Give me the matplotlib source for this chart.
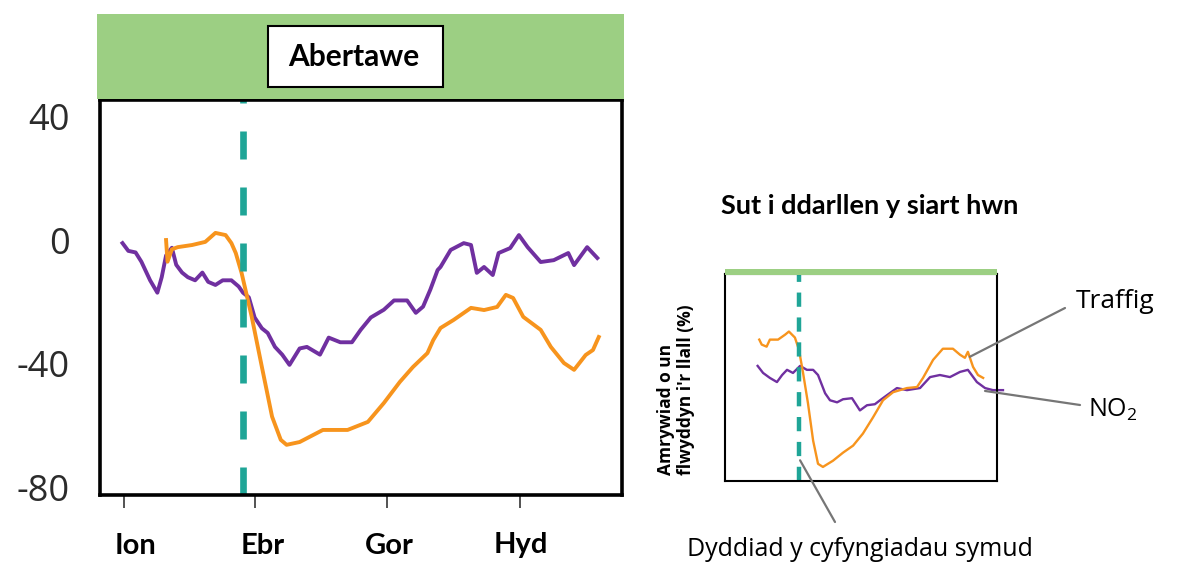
import matplotlib.pyplot as plt
from matplotlib.patches import Rectangle
from matplotlib.transforms import ScaledTranslation

plt.rcParams['font.family'] = ['Open Sans', 'DejaVu Sans']

# main chart (Abertawe): day of year vs % change
no2_day = [-1, 3, 8, 12, 18, 23, 26, 29, 33, 36, 40, 44, 49, 54, 58, 63, 68, 74, 79, 82,
           86, 90, 95, 99, 104, 109, 114, 121, 126, 135, 141, 149, 157, 163, 170, 179, 186,
           195, 201, 206, 211, 216, 218, 225, 234, 239, 243, 248, 254, 258, 266, 272, 278,
           287, 296, 306, 310, 319, 326]
no2_val = [-1, -3.5, -4, -7, -13, -17, -12, -5, -2.5, -8, -10.5, -12, -13, -10.5, -13.5,
           -14.5, -13, -13, -15, -17, -18.5, -25, -28.5, -30, -34.5, -37, -40.3, -35, -34.5,
           -37, -31.5, -33, -33, -29, -25, -22.5, -19.5, -19.5, -23.5, -21.5, -16, -9.7,
           -8.7, -3.2, -1, -1.6, -10.6, -8.7, -11.3, -4.2, -2.6, 1.6, -2.3, -7.1, -6.5,
           -4.2, -8.1, -2.3, -5.8]

traffic_day = [29, 30, 33, 37, 47, 56, 63, 70, 74, 77, 81, 88, 95, 102, 108, 112, 121, 137,
               154, 168, 179, 190, 199, 209, 213, 218, 227, 239, 248, 257, 263, 268, 275,
               287, 294, 303, 310, 318, 323, 327]
traffic_val = [0, -7, -3, -2.3, -1.6, -0.6, 2.3, 1.6, -1, -4.2, -10.6, -24.8, -41, -57,
               -64.5, -66.1, -65.2, -61.3, -61.3, -58.7, -52.6, -45.8, -41, -36.5, -32.3,
               -28.4, -25.8, -21.9, -22.6, -21.6, -17.7, -18.7, -24.8, -29, -34.5, -39.7,
               -41.9, -37.1, -35.5, -31.3]

lockdown_day = 82
month_days = [0, 90, 181, 273]
month_labels = ['Ion', 'Ebr', 'Gor', 'Hyd']
y_ticks = [40, 0, -40, -80]

# "how to read" sketch, arbitrary 0-100 units
s_traffic_x = [12.6, 13.5, 15.3, 16.5, 19.5, 22.1, 23.5, 25.7, 27.2, 28.7, 30.5, 32.4, 34.2,
               36.0, 39.7, 43.4, 47.1, 50.7, 54.4, 58.1, 61.8, 66.9, 70.6, 72.8, 76.5, 80.1,
               83.8, 86.4, 88.2, 89.3, 91.2, 93.0, 94.9]
s_traffic_y = [68.3, 65.9, 64.9, 68.3, 68.3, 70.7, 72.2, 69.3, 63.4, 52.2, 37.6, 19.5, 8.3,
               6.8, 9.8, 13.7, 17.1, 22.9, 30.7, 39.0, 42.9, 44.9, 45.4, 49.8, 58.5, 63.9,
               63.9, 61.0, 59.5, 62.4, 55.1, 51.2, 49.8]
s_no2_x = [12.0, 14.0, 16.5, 19.1, 21.0, 22.8, 25.0, 27.6, 30.1, 32.4, 34.2, 36.8, 38.6,
           41.2, 43.4, 46.7, 49.6, 52.2, 55.1, 57.0, 59.6, 63.2, 66.9, 71.7, 75.4, 79.0,
           82.7, 86.4, 89.3, 92.6, 95.6, 98.5, 102.2]
s_no2_y = [55.6, 52.2, 49.8, 47.8, 51.2, 53.7, 52.2, 55.6, 53.7, 53.7, 51.2, 42.4, 39.0,
           38.0, 39.5, 40.0, 34.1, 36.6, 37.1, 39.0, 41.5, 44.9, 43.9, 44.9, 50.2, 51.2,
           50.2, 52.7, 53.7, 47.8, 44.9, 43.9, 43.9]
s_lockdown = 27.2

W, H = 1182, 565
PURPLE = '#7030a0'
ORANGE = '#f7941d'
TEAL = '#1fa597'
GREEN = '#9ccf83'
GREY = '#767676'
BOLD = ['Lato', 'DejaVu Sans']


def fbox(x0, y0, x1, y1):
    # pixel box (top-left origin) -> figure fraction rect
    return [x0 / W, 1 - y1 / H, (x1 - x0) / W, (y1 - y0) / H]


fig = plt.figure(figsize=(W / 100, H / 100), dpi=100)

# green header band and title box
b = fbox(97, 14, 624, 99)
fig.add_artist(Rectangle((b[0], b[1]), b[2], b[3], transform=fig.transFigure,
                         fc=GREEN, ec='none'))
b = fbox(268, 26, 443, 87)
fig.add_artist(Rectangle((b[0], b[1]), b[2], b[3], transform=fig.transFigure,
                         fc='white', ec='black', lw=1.5))
fig.text(354 / W, 1 - 57 / H, 'Abertawe', ha='center', va='center',
         fontsize=21.5, fontweight='bold', family=BOLD)

ax = fig.add_axes(fbox(100, 100, 622, 495))
ax.plot(no2_day, no2_val, color=PURPLE, lw=2.8, solid_joinstyle='round')
ax.plot(traffic_day, traffic_val, color=ORANGE, lw=2.8, solid_joinstyle='round')
ln = ax.axvline(lockdown_day, color=TEAL, lw=4.8)
ln.set_dashes((4.2, 4.2))
ln.set_dash_capstyle('butt')
ax.set_xlim(-16.5, 343)
ax.set_ylim(-82.3, 45.2)
ax.set_yticks(y_ticks)
ax.set_yticklabels([str(v) for v in y_ticks])
ax.set_xticks(month_days)
ax.set_xticklabels(month_labels, fontweight='bold', fontsize=21, family=BOLD)
ax.tick_params(axis='y', length=0, pad=22, labelsize=26, labelcolor='#2b2b2b')
ax.tick_params(axis='x', length=9, width=1.3, color='#444444', pad=18, labelcolor='black')
for lab, dx in zip(ax.get_xticklabels(), [12, 8, 3, 0]):
    lab.set_transform(lab.get_transform() + ScaledTranslation(dx / 100, 0, fig.dpi_scale_trans))
for s in ax.spines.values():
    s.set_linewidth(2.6)
    s.set_color('black')

# small explanatory chart
b = fbox(725, 269, 997, 275)
fig.add_artist(Rectangle((b[0], b[1]), b[2], b[3], transform=fig.transFigure,
                         fc=GREEN, ec='none'))
ax2 = fig.add_axes(fbox(725, 274, 997, 481))
ax2.plot(s_no2_x, s_no2_y, color=PURPLE, lw=1.7, clip_on=False)
ax2.plot(s_traffic_x, s_traffic_y, color=ORANGE, lw=1.7)
ln2 = ax2.axvline(s_lockdown, color=TEAL, lw=3.2)
ln2.set_dashes((3.2, 2.4))
ln2.set_dash_capstyle('butt')
ax2.set_xlim(0, 100)
ax2.set_ylim(0, 100)
ax2.set_xticks([])
ax2.set_yticks([])
for s in ax2.spines.values():
    s.set_linewidth(1.5)
    s.set_color('black')

fig.text(870 / W, 1 - 206 / H, 'Sut i ddarllen y siart hwn', ha='center', va='center',
         fontsize=19.5, fontweight='bold', family=BOLD)
fig.text(676 / W, 1 - 390 / H, "Amrywiad o un\nflwyddyn i'r llall (%)", rotation=90,
         ha='center', va='center', multialignment='left', fontsize=12.5,
         fontweight='bold', linespacing=1.1)

line_kw = dict(arrowstyle='-', color=GREY, lw=1.6, shrinkA=0, shrinkB=0)
ax2.annotate('', xy=(90, 60), xytext=(1065, H - 308), textcoords='figure pixels',
             arrowprops=line_kw)
ax2.annotate('', xy=(95.6, 43.5), xytext=(1080, H - 405), textcoords='figure pixels',
             arrowprops=line_kw, annotation_clip=False)
ax2.annotate('', xy=(27.6, 10), xytext=(835, H - 522), textcoords='figure pixels',
             arrowprops=line_kw)
fig.text(1076 / W, 1 - 301 / H, 'Traffig', ha='left', va='center', fontsize=19)
fig.text(1088 / W, 1 - 410 / H, 'NO$_\\mathregular{2}$', ha='left', va='center', fontsize=18)
fig.text(860 / W, 1 - 549 / H, 'Dyddiad y cyfyngiadau symud', ha='center', va='center',
         fontsize=18)

fig.savefig('out.png', dpi=100)
